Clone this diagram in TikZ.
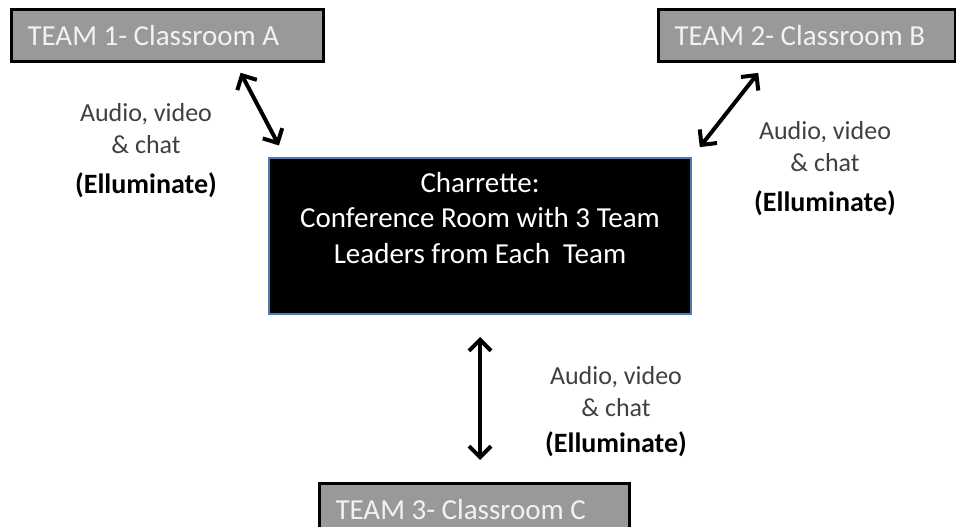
\documentclass[tikz,border=0pt]{standalone}
\usepackage{fontspec}
\setmainfont{Carlito}
\usetikzlibrary{arrows.meta}
\definecolor{boxGray}{HTML}{999999}
\definecolor{boxText}{HTML}{F2F2F2}
\definecolor{edgeBlue}{HTML}{4F7BB5}
\definecolor{labelGray}{HTML}{404040}
\newcommand{\elluminate}{{\color{black}\fontsize{28}{32}\selectfont\bfseries (Elluminate)}}

\begin{document}
\begin{tikzpicture}[x=1pt, y=-1pt,
	teamBox/.style={rectangle, anchor=north west, fill=boxGray, draw=black, line width=3pt, minimum height=52pt, inner xsep=16pt, align=flush left, text=boxText, font=\fontsize{29}{35}\selectfont},
	mediaLabel/.style={align=center, text=labelGray, font=\fontsize{26}{32}\selectfont},
	linkArrow/.style={<->, >={Straight Barb[length=11pt,width=22pt]}, line width=4pt, color=black}]
	\useasboundingbox (0,0) rectangle (956,527);

	\node[teamBox, text width=280pt](teamABox) at (10,8){TEAM 1- Classroom A};
	\node[teamBox, text width=265pt](teamBBox) at (657,8){TEAM 2- Classroom B};
	\node[teamBox, text width=278pt](teamCBox) at (318,482){TEAM 3- Classroom C};

	\node[rectangle, anchor=north west, fill=black, draw=edgeBlue, line width=2pt, minimum width=422pt, minimum height=156pt](charretteBox) at (268,157){};
	\node[align=center, text=white, font=\fontsize{29}{35.5}\selectfont](charretteText) at ([yshift=18pt]charretteBox.center){Charrette:\\ Conference Room with 3 Team\\ Leaders from Each\ \ Team};

	\node[mediaLabel](mediaA) at (146,151){Audio, video\\ \& chat\\[8pt] \elluminate};
	\node[mediaLabel](mediaB) at (825,169){Audio, video\\ \& chat\\[8pt] \elluminate};
	\node[mediaLabel](mediaC) at (616,412){Audio, video\\ \& chat\\[4pt] \elluminate};

	\draw[linkArrow, shorten <=11pt, shorten >=13pt] ([xshift=68pt]teamABox.south) -- ([xshift=-195pt]charretteBox.north);
	\draw[linkArrow, shorten <=12.6pt, shorten >=12.6pt] ([xshift=-41pt]teamBBox.south) -- (charretteBox.north east);
	\draw[linkArrow, shorten <=22pt, shorten >=22pt] (charretteBox.south) -- (charretteBox.south |- teamCBox.north);

\end{tikzpicture}
\end{document}
